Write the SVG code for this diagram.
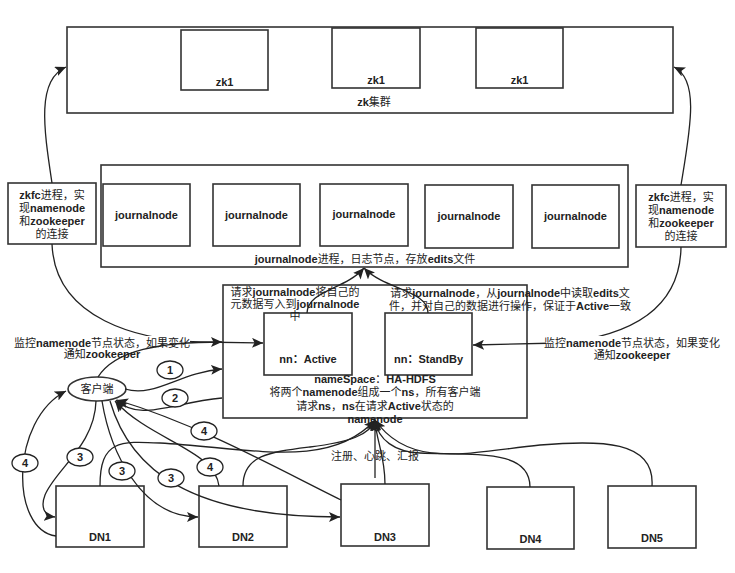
<svg xmlns="http://www.w3.org/2000/svg" width="735" height="573" viewBox="0 0 735 573">
<defs>
<marker id="arr" markerUnits="userSpaceOnUse" markerWidth="12" markerHeight="10" refX="11" refY="5" orient="auto">
<path d="M0,0 L11,5 L0,10 L2.5,5 Z" fill="#222"/>
</marker>
<style>
.box{fill:#fff;stroke:#333;stroke-width:1.6}
.t{font-family:"Liberation Sans","Noto Sans CJK SC",sans-serif;font-size:11px;fill:#222;text-anchor:middle}
.b{font-weight:bold}
.e{fill:none;stroke:#222;stroke-width:1.3}
.ea{fill:none;stroke:#222;stroke-width:1.3;marker-end:url(#arr)}
.lbl{fill:#fff;stroke:#222;stroke-width:1.3}
</style>
</defs>
<rect width="735" height="573" fill="#fff"/>

<g id="zk-cluster">
<rect class="box" x="67" y="27" width="606" height="86"/>
<text class="t" x="374" y="106"><tspan class="b">zk</tspan>集群</text>
</g>
<g id="zk1-a"><rect class="box" x="181" y="30" width="87" height="60"/><text class="t b" x="224.5" y="86">zk1</text></g>
<g id="zk1-b"><rect class="box" x="332" y="28" width="88" height="60"/><text class="t b" x="376" y="84">zk1</text></g>
<g id="zk1-c"><rect class="box" x="476" y="28" width="87" height="60"/><text class="t b" x="519.5" y="84">zk1</text></g>

<g id="journal-cluster">
<rect class="box" x="101" y="165" width="527" height="102"/>
<text class="t" x="365" y="263"><tspan class="b">journalnode</tspan>进程，日志节点，存放<tspan class="b">edits</tspan>文件</text>
</g>
<g id="jn1"><rect class="box" x="103" y="184" width="87" height="62"/><text class="t b" x="146.5" y="219">journalnode</text></g>
<g id="jn2"><rect class="box" x="213" y="184" width="87" height="62"/><text class="t b" x="256.5" y="219">journalnode</text></g>
<g id="jn3"><rect class="box" x="320" y="184" width="88" height="62"/><text class="t b" x="364" y="218">journalnode</text></g>
<g id="jn4"><rect class="box" x="425" y="185" width="88" height="63"/><text class="t b" x="469" y="220">journalnode</text></g>
<g id="jn5"><rect class="box" x="532" y="185" width="87" height="63"/><text class="t b" x="575.5" y="220">journalnode</text></g>

<g id="zkfc-left">
<rect class="box" x="8" y="183" width="88" height="61"/>
<text class="t" x="52" y="199"><tspan class="b">zkfc</tspan>进程，实</text>
<text class="t" x="52" y="212">现<tspan class="b">namenode</tspan></text>
<text class="t" x="52" y="225">和<tspan class="b">zookeeper</tspan></text>
<text class="t" x="52" y="238">的连接</text>
</g>
<g id="zkfc-right">
<rect class="box" x="636" y="185" width="90" height="62"/>
<text class="t" x="681" y="201"><tspan class="b">zkfc</tspan>进程，实</text>
<text class="t" x="681" y="214">现<tspan class="b">namenode</tspan></text>
<text class="t" x="681" y="227">和<tspan class="b">zookeeper</tspan></text>
<text class="t" x="681" y="240">的连接</text>
</g>

<g id="namespace">
<rect class="box" x="223" y="285" width="304" height="133"/>
</g>
<g id="nn-active"><rect class="box" x="264" y="313" width="88" height="62"/><text class="t b" x="308" y="363">nn：Active</text></g>
<g id="nn-standby"><rect class="box" x="385" y="313" width="87" height="62"/><text class="t b" x="428.5" y="363">nn：StandBy</text></g>

<g id="client">
<ellipse class="box" cx="97" cy="389" rx="29" ry="12"/>
<text class="t" x="97" y="393">客户端</text>
</g>

<g id="dn1"><rect class="box" x="56" y="486" width="88" height="61"/><text class="t b" x="100" y="541">DN1</text></g>
<g id="dn2"><rect class="box" x="199" y="486" width="88" height="61"/><text class="t b" x="243" y="541">DN2</text></g>
<g id="dn3"><rect class="box" x="341" y="484" width="88" height="62"/><text class="t b" x="385" y="541">DN3</text></g>
<g id="dn4"><rect class="box" x="487" y="487" width="87" height="62"/><text class="t b" x="530.5" y="543">DN4</text></g>
<g id="dn5"><rect class="box" x="608" y="486" width="88" height="62"/><text class="t b" x="652" y="542">DN5</text></g>

<g id="connectors">
<path class="ea" d="M52,183 C44,130 36,80 66,67"/>
<path class="ea" d="M681,185 C690,130 700,80 674,67"/>
<path class="ea" d="M52,244 C55,320 140,340 200,342 L263,343"/>
<path class="ea" d="M681,247 C680,310 630,336 560,343 L473,345"/>
<rect x="16" y="336" width="174" height="25" fill="#fff"/>
<text class="t" x="102" y="347">监控<tspan class="b">namenode</tspan>节点状态，如果变化</text>
<text class="t" x="102" y="358">通知<tspan class="b">zookeeper</tspan></text>
<rect x="546" y="336" width="174" height="25" fill="#fff"/>
<text class="t" x="632" y="347">监控<tspan class="b">namenode</tspan>节点状态，如果变化</text>
<text class="t" x="632" y="359">通知<tspan class="b">zookeeper</tspan></text>

<text class="t" x="295" y="296">请求<tspan class="b">journalnode</tspan>将自己的</text>
<text class="t" x="295" y="308">元数据写入到<tspan class="b">journalnode</tspan></text>
<text class="t" x="295" y="320">中</text>
<text class="t" x="510" y="297">请求<tspan class="b">journalnode</tspan>，从<tspan class="b">journalnode</tspan>中读取<tspan class="b">edits</tspan>文</text>
<text class="t" x="510" y="310">件，并对自己的数据进行操作，保证于<tspan class="b">Active</tspan>一致</text>
<text class="t" x="375" y="383"><tspan class="b">nameSpace</tspan>：<tspan class="b">HA-HDFS</tspan></text>
<text class="t" x="375" y="396">将两个<tspan class="b">namenode</tspan>组成一个<tspan class="b">ns</tspan>，所有客户端</text>
<text class="t" x="375" y="410">请求<tspan class="b">ns</tspan>，<tspan class="b">ns</tspan>在请求<tspan class="b">Active</tspan>状态的</text>
<text class="t b" x="375" y="423">namenode</text>
<text class="t" x="375" y="460">注册、心跳、汇报</text>

<path class="ea" d="M307,313 C308,290 345,290 364,268"/>
<path class="ea" d="M428,313 C428,290 385,290 364,268"/>

<path class="ea" d="M98,377 C115,350 160,342 222,342"/>
<path class="ea" d="M125,389 C155,398 180,372 222,369"/>
<path class="ea" d="M222,398 C170,403 140,422 116,400"/>
<path class="ea" d="M341,500 C280,470 200,425 117,400"/>
<path class="ea" d="M219,486 C215,450 150,440 115,401"/>
<path class="ea" d="M56,536 C10,530 10,420 66,391"/>
<path class="ea" d="M96,401 C95,445 55,470 45,495 C40,508 45,516 55,517"/>
<path class="ea" d="M102,401 C110,450 140,517 198,517"/>
<path class="ea" d="M110,401 C130,470 190,517 340,517"/>

<path class="ea" d="M100,486 C100,440 120,441 160,443 C250,448 330,470 375,420"/>
<path class="ea" d="M243,486 C243,455 270,452 310,447 C350,442 370,435 375,420"/>
<path class="ea" d="M375,478 L375,420"/>
<path class="ea" d="M385,484 C385,455 376,440 375,420"/>
<path class="ea" d="M530,487 C530,450 480,455 420,453 C395,452 378,440 375,420"/>
<path class="ea" d="M652,486 C655,440 600,440 540,445 C470,452 410,470 375,420"/>

<g id="lbl1"><ellipse class="lbl" cx="170" cy="370" rx="13" ry="9"/><text class="t b" x="170" y="374">1</text></g>
<g id="lbl2"><ellipse class="lbl" cx="175" cy="398" rx="13" ry="9"/><text class="t b" x="175" y="402">2</text></g>
<g id="lbl4a"><ellipse class="lbl" cx="204" cy="431" rx="13" ry="9"/><text class="t b" x="204" y="435">4</text></g>
<g id="lbl4b"><ellipse class="lbl" cx="210" cy="467" rx="13" ry="9"/><text class="t b" x="210" y="471">4</text></g>
<g id="lbl4c"><ellipse class="lbl" cx="25" cy="463" rx="13" ry="9"/><text class="t b" x="25" y="467">4</text></g>
<g id="lbl3a"><ellipse class="lbl" cx="80" cy="457" rx="13" ry="9"/><text class="t b" x="80" y="461">3</text></g>
<g id="lbl3b"><ellipse class="lbl" cx="122" cy="471" rx="13" ry="9"/><text class="t b" x="122" y="475">3</text></g>
<g id="lbl3c"><ellipse class="lbl" cx="171" cy="478" rx="13" ry="9"/><text class="t b" x="171" y="482">3</text></g>
</g>
</svg>
